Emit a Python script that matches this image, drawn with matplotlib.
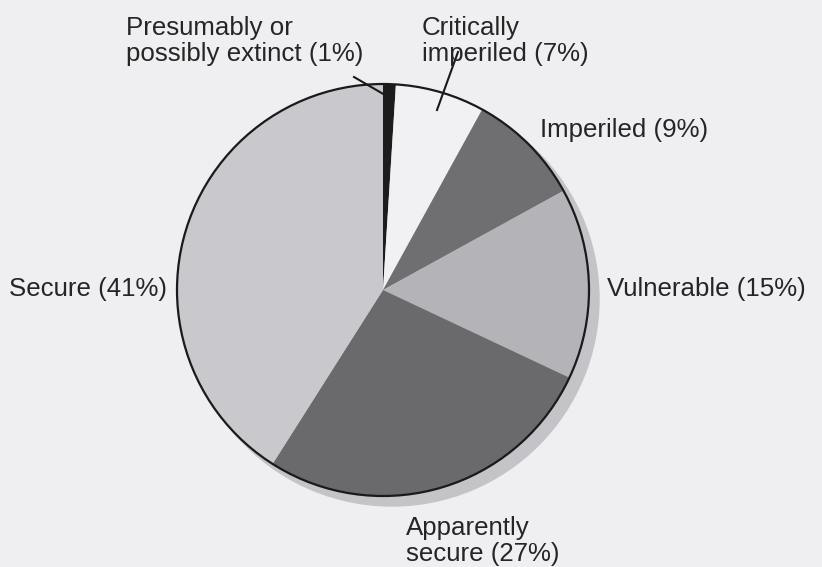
import matplotlib.pyplot as plt
from matplotlib.patches import Circle

# data
labels = ["Presumably or\npossibly extinct (1%)", "Critically\nimperiled (7%)", "Imperiled (9%)",
          "Vulnerable (15%)", "Apparently\nsecure (27%)", "Secure (41%)"]
shares = [1, 7, 9, 15, 27, 41]
colors = ["#1c1c1c", "#f1f1f3", "#6f6f71", "#b4b4b8", "#6a6a6c", "#c9c9cd"]

# label anchor points (pixel coords, top-left origin)
label_x = [126, 422, 540, 607, 9, 406]
label_y = [41, 41, 130, 289, 289, 541]
label_idx = [0, 1, 2, 3, 5, 4]

W, H = 822, 567
CX, CY, R = 383, 290, 206
BG = "#efeff1"

plt.rcParams['font.family'] = ['Liberation Sans', 'DejaVu Sans']

fig = plt.figure(figsize=(W / 100, H / 100), dpi=100, facecolor=BG)
ax = fig.add_axes([0, 0, 1, 1])

# drop shadow
ax.add_patch(Circle((CX + 9, H - CY - 9), R + 1, color="#c4c4c8", zorder=0))

ax.pie(shares, colors=colors, startangle=90, counterclock=False,
       center=(CX, H - CY), radius=R, frame=True,
       wedgeprops=dict(linewidth=0))
ax.set_xlim(0, W)
ax.set_ylim(0, H)
ax.set_aspect('equal')
ax.axis('off')

ax.add_patch(Circle((CX, H - CY), R, fill=False, edgecolor="#1a1a1a", linewidth=1.6, zorder=5))

for i, x, y in zip(label_idx, label_x, label_y):
    ax.text(x, H - y, labels[i], fontsize=18.6, color="#252525",
            ha='left', va='center', linespacing=1.12)

# leader lines
ax.plot([354, 385], [H - 77, H - 95], color="#1a1a1a", lw=1.5)
ax.plot([458, 437], [H - 52, H - 110], color="#1a1a1a", lw=1.5)

fig.savefig("out.png", dpi=100, facecolor=BG)
